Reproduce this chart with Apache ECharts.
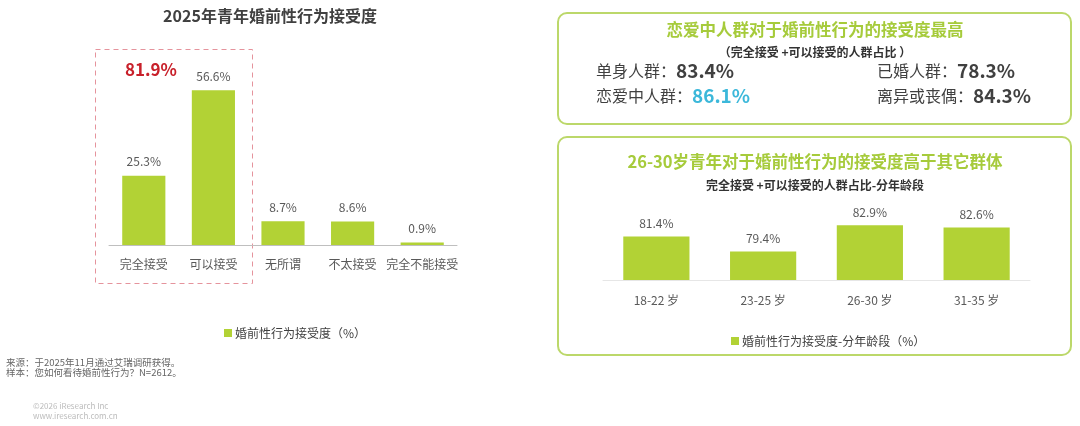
<!DOCTYPE html>
<html>
<head>
<meta charset="UTF-8">
<title>2025年青年婚前性行为接受度</title>
<script type="text/javascript" src="https://cdn.jsdelivr.net/npm/echarts@6/dist/echarts.min.js"></script>
<style>
	html, body { margin: 0; padding: 0; background: #fff; }
	#main { width: 1080px; height: 426px; }
</style>
</head>
<body>
	<div id="main"></div>
</body>
<script type="text/javascript">
	// 数据
	var attitudeCats = ['完全接受', '可以接受', '无所谓', '不太接受', '完全不能接受'];
	var attitudeVals = [25.3, 56.6, 8.7, 8.6, 0.9];
	var ageCats = ['18-22 岁', '23-25 岁', '26-30 岁', '31-35 岁'];
	var ageVals = [81.4, 79.4, 82.9, 82.6];
	var groupNames = ['单身人群：', '恋爱中人群：', '已婚人群：', '离异或丧偶：'];
	var groupVals = ['83.4%', '86.1%', '78.3%', '84.3%'];
	var acceptTotal = '81.9%';

	var font = '"Noto Sans CJK SC", "Noto Sans", sans-serif';
	var barColor = '#b2d235';
	var boxColor = '#bcd86a';
	var titleGreen = '#a6cb3b';

	var myChart = echarts.init(document.getElementById('main'));

	function groupText(i, x, y, valColor) {
		return {
			type: 'text', left: x, top: y,
			style: {
				text: '{a|' + groupNames[i] + '}{b|' + groupVals[i] + '}',
				rich: {
					a: { fontSize: 16, fill: '#404040', fontFamily: font },
					b: { fontSize: 19, fontWeight: 'bold', fill: valColor, fontFamily: font }
				}
			}
		};
	}

	option = {
		textStyle: { fontFamily: font },
		animation: false,
		legend: [{
			data: ['婚前性行为接受度（%）'],
			left: 219, top: 322,
			itemWidth: 8, itemHeight: 8, itemGap: 4,
			icon: 'rect',
			textStyle: { fontSize: 12, color: '#404040', fontFamily: font, padding: [0, 0, 0, -2] }
		}, {
			data: ['婚前性行为接受度-分年龄段（%）'],
			left: 726, top: 330,
			itemWidth: 8, itemHeight: 8, itemGap: 4,
			icon: 'rect',
			textStyle: { fontSize: 12, color: '#404040', fontFamily: font, padding: [0, 0, 0, -2] }
		}],
		grid: [
			{ left: 109, right: 623, top: 81, bottom: 181 },
			{ left: 603, right: 50, top: 209.5, bottom: 146 }
		],
		xAxis: [{
			type: 'category', gridIndex: 0, data: attitudeCats,
			axisLine: { lineStyle: { color: '#bfbfbf', width: 1 } },
			axisTick: { show: false },
			axisLabel: { interval: 0, color: '#595959', fontSize: 12, margin: 13, fontFamily: font }
		}, {
			type: 'category', gridIndex: 1, data: ageCats,
			axisLine: { lineStyle: { color: '#e6e6e6', width: 1 } },
			axisTick: { show: false },
			axisLabel: { interval: 0, color: '#595959', fontSize: 12, margin: 14, fontFamily: font }
		}],
		yAxis: [{
			type: 'value', gridIndex: 0, min: 0, max: 60, show: false
		}, {
			type: 'value', gridIndex: 1, min: 75.6, max: 85, show: false
		}],
		series: [{
			name: '婚前性行为接受度（%）',
			type: 'bar', xAxisIndex: 0, yAxisIndex: 0,
			data: attitudeVals,
			barWidth: '62%',
			itemStyle: { color: barColor },
			label: {
				show: true, position: 'top', distance: 8,
				formatter: '{c}%', fontSize: 12, color: '#595959', fontFamily: font
			}
		}, {
			name: '婚前性行为接受度-分年龄段（%）',
			type: 'bar', xAxisIndex: 1, yAxisIndex: 1,
			data: ageVals,
			barWidth: '62%',
			itemStyle: { color: barColor },
			label: {
				show: true, position: 'top', distance: 7,
				formatter: '{c}%', fontSize: 12, color: '#595959', fontFamily: font
			}
		}],
		graphic: [
			// 左侧标题
			{
				type: 'text', x: 270, y: 16,
				style: {
					text: '2025年青年婚前性行为接受度',
					fill: '#404040', font: 'bold 16px ' + font, textAlign: 'center', textVerticalAlign: 'middle'
				}
			},
			// 红色虚线框
			{
				type: 'rect', shape: { x: 95.5, y: 49.5, width: 157, height: 234 },
				style: { fill: 'none', stroke: '#e5939c', lineWidth: 1, lineDash: [5, 4] }
			},
			{
				type: 'text', x: 151, y: 70,
				style: {
					text: acceptTotal, font: 'bold 17px ' + font, fill: '#c8202a',
					textAlign: 'center', textVerticalAlign: 'middle'
				}
			},
			// 来源
			{
				type: 'text', left: 6, top: 357,
				style: {
					text: '来源：于2025年11月通过艾瑞调研获得。\n样本：您如何看待婚前性行为？N=2612。',
					font: '9.5px ' + font, fill: '#666', lineHeight: 10
				}
			},
			{
				type: 'text', left: 33, top: 401,
				style: {
					text: '©2026 iResearch Inc\nwww.iresearch.com.cn',
					font: '8px ' + font, fill: '#bbb', lineHeight: 10
				}
			},
			// 右上框
			{
				type: 'rect', shape: { x: 558, y: 13, width: 513, height: 111, r: 9 },
				style: { fill: 'none', stroke: boxColor, lineWidth: 2 }
			},
			{
				type: 'text', x: 815, y: 30,
				style: {
					text: '恋爱中人群对于婚前性行为的接受度最高', font: 'bold 16.5px ' + font,
					fill: titleGreen, textAlign: 'center', textVerticalAlign: 'middle'
				}
			},
			{
				type: 'text', x: 815, y: 52,
				style: {
					text: '（完全接受 +可以接受的人群占比 ）', font: 'bold 12px ' + font,
					fill: '#333', textAlign: 'center', textVerticalAlign: 'middle'
				}
			},
			groupText(0, 596, 61, '#404040'),
			groupText(1, 596, 86, '#3cb8da'),
			groupText(2, 877, 61, '#404040'),
			groupText(3, 877, 86, '#404040'),
			// 右下框
			{
				type: 'rect', shape: { x: 558, y: 137, width: 513, height: 218, r: 9 },
				style: { fill: 'none', stroke: boxColor, lineWidth: 2 }
			},
			{
				type: 'text', x: 815, y: 162,
				style: {
					text: '26-30岁青年对于婚前性行为的接受度高于其它群体', font: 'bold 16.5px ' + font,
					fill: titleGreen, textAlign: 'center', textVerticalAlign: 'middle'
				}
			},
			{
				type: 'text', x: 815, y: 185,
				style: {
					text: '完全接受 +可以接受的人群占比-分年龄段', font: 'bold 12px ' + font,
					fill: '#333', textAlign: 'center', textVerticalAlign: 'middle'
				}
			}
		]
	};
	myChart.setOption(option);
</script>
</html>
